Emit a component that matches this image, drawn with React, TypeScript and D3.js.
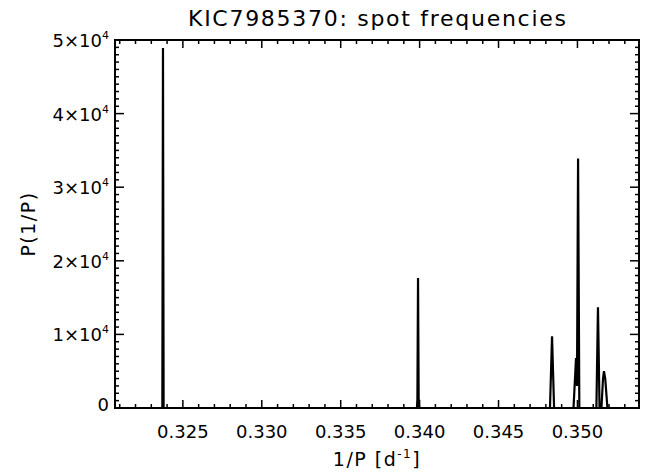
import React from "react";
import * as d3 from "d3";

// Polyline vertices (frequency in 1/d, power)
const freq = [
  0.3207, 0.3237, 0.32374, 0.32378,
  0.33983, 0.33986, 0.3399, 0.33994, 0.33997,
  0.34826, 0.34839, 0.34852,
  0.34975, 0.34991, 0.34997, 0.35004, 0.35012,
  0.3512, 0.3513, 0.3514,
  0.35152, 0.35162, 0.35168, 0.35176, 0.3519,
  0.3539,
];
const power = [
  0, 0, 48900, 0,
  0, 1200, 17650, 1200, 0,
  0, 9750, 0,
  0, 6800, 3000, 33900, 0,
  0, 13700, 0,
  0, 4000, 5000, 4000, 0,
  0,
];

const xMajorTicks = [0.325, 0.33, 0.335, 0.34, 0.345, 0.35];
const xTickLabels = ["0.325", "0.330", "0.335", "0.340", "0.345", "0.350"];
const yMajorTicks = [0, 10000, 20000, 30000, 40000, 50000];
const yTickMantissa = ["0", "1", "2", "3", "4", "5"];

const xDomain = [0.3207, 0.3539];
const yDomain = [0, 50000];

export default function App() {
  const W = 662, H = 473;
  const L = 115, R = 639, T = 40, B = 408;
  const x = d3.scaleLinear().domain(xDomain).range([L, R]);
  const y = d3.scaleLinear().domain(yDomain).range([B, T]);

  const xMinor = d3.range(321, 354).map((k) => k / 1000).filter((v) => v >= xDomain[0] && v <= xDomain[1]);
  const yMinor = d3.range(0, 51).map((k) => k * 1000);

  const pts: [number, number][] = freq.map((f, i) => [f, power[i]]);
  const line = d3.line<[number, number]>().x((d) => x(d[0])).y((d) => y(d[1]));

  const font = "DejaVu Sans, sans-serif";
  const fs = 18;
  const isMajorX = (v: number) => Math.abs(v * 200 - Math.round(v * 200)) < 1e-6;

  return (
    <svg width={W} height={H} style={{ position: "absolute", left: 0, top: 0, background: "#fff" }}>
      <rect x={0} y={0} width={W} height={H} fill="#fff" />
      <text x={(L + R) / 2} y={26} textAnchor="middle" fontFamily={font} fontSize={22}
        textLength={378} lengthAdjust="spacing" fill="#000">
        KIC7985370: spot frequencies
      </text>

      {/* x ticks bottom & top */}
      {xMinor.map((v, i) => {
        const len = isMajorX(v) ? 8 : 4;
        return (
          <g key={"xm" + i} stroke="#000" strokeWidth={1.5}>
            <line x1={x(v)} x2={x(v)} y1={B} y2={B - len} />
            <line x1={x(v)} x2={x(v)} y1={T} y2={T + len} />
          </g>
        );
      })}
      {/* y ticks left & right */}
      {yMinor.map((v, i) => {
        const len = v % 10000 === 0 ? 9 : 4;
        return (
          <g key={"ym" + i} stroke="#000" strokeWidth={1.5}>
            <line x1={L} x2={L + len} y1={y(v)} y2={y(v)} />
            <line x1={R} x2={R - len} y1={y(v)} y2={y(v)} />
          </g>
        );
      })}

      {/* data */}
      <path d={line(pts) || ""} fill="none" stroke="#000" strokeWidth={2.2} strokeLinejoin="miter" />

      {/* frame */}
      <rect x={L} y={T} width={R - L} height={B - T} fill="none" stroke="#000" strokeWidth={2} />

      {/* x labels */}
      {xMajorTicks.map((v, i) => (
        <text key={"xl" + i} x={x(v)} y={438} textAnchor="middle" fontFamily={font} fontSize={fs} fill="#000">
          {xTickLabels[i]}
        </text>
      ))}
      {/* y labels */}
      {yMajorTicks.map((v, i) => (
        <text key={"yl" + i} x={L - 6} y={y(v) + (v === 0 ? 3 : 7)} textAnchor="end" fontFamily={font} fontSize={fs} fill="#000">
          {v === 0 ? (
            "0"
          ) : (
            <>
              {yTickMantissa[i] + "×10"}
              <tspan fontSize={11} dy={-8}>4</tspan>
            </>
          )}
        </text>
      ))}

      {/* axis titles */}
      <text x={(L + R) / 2} y={466} textAnchor="middle" fontFamily={font} fontSize={19} letterSpacing={1.5} fill="#000">
        1/P [d<tspan fontSize={12} dy={-8}>-1</tspan><tspan dy={8}>]</tspan>
      </text>
      <text transform={`translate(35, ${(T + B) / 2}) rotate(-90)`} textAnchor="middle" fontFamily={font} fontSize={19} letterSpacing={1.5} fill="#000">
        P(1/P)
      </text>
    </svg>
  );
}
